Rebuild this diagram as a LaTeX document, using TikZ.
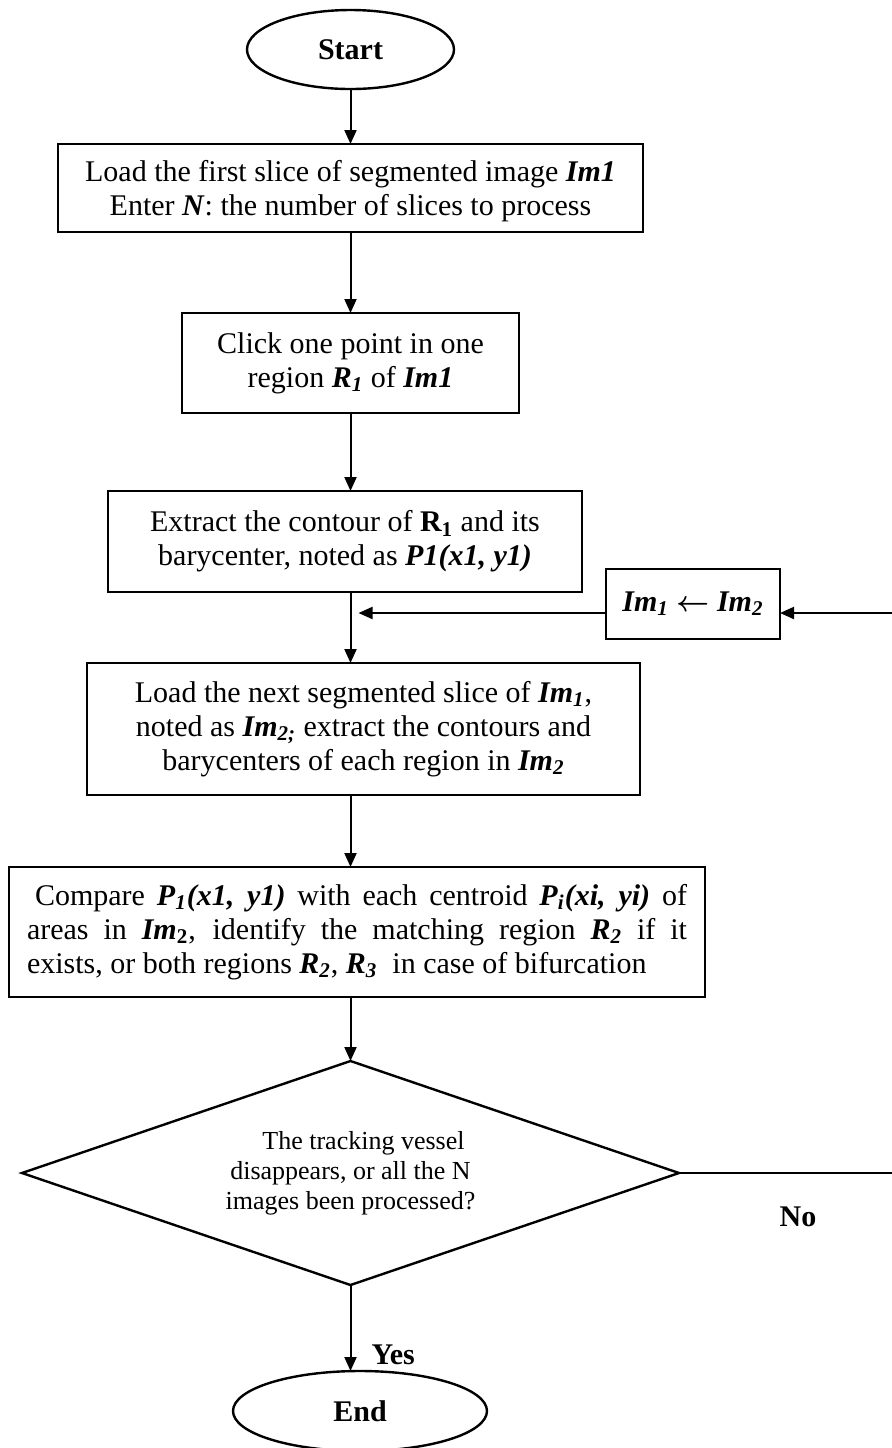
\documentclass[tikz,border=0pt]{standalone}
\usepackage{fontspec}
\setmainfont{Liberation Serif}
\usetikzlibrary{arrows.meta, positioning, calc, shapes}

\newcommand{\bi}[1]{\textbf{\textit{#1}}}
\newcommand{\bisub}[2]{\bi{#1}\textsubscript{\bi{#2}}}

\begin{document}
\begin{tikzpicture}[
    node distance=30pt,
    terminal/.style={ellipse, draw, line width=1.2pt, outer sep=0pt, font=\fontsize{15}{17}\selectfont\bfseries},
    process/.style={rectangle, draw, line width=1.2pt, outer sep=0pt, align=center, font=\fontsize{15}{17}\selectfont},
    decision/.style={diamond, draw, line width=1.2pt, outer sep=0pt, align=center, inner sep=0pt, shape aspect=2.93, font=\fontsize{13}{15}\selectfont},
    arrow/.style={-{Triangle[length=7pt,width=6pt]}, line width=1pt},
    answer/.style={font=\fontsize{15}{17}\selectfont\bfseries}
]
    \useasboundingbox (0,0) rectangle (445.5pt,-724pt);

    % main column
    \node[terminal, minimum width=103.5pt, minimum height=39.5pt] (start) at (175.25pt,-24.75pt) {Start};

    \node[process, below=27.5pt of start, minimum width=292.75pt, minimum height=44pt] (load1)
        {\rule{0pt}{14pt}Load the first slice of segmented image \bi{Im1}\\Enter \bi{N}: the number of slices to process};
    \node[process, below=40.5pt of load1, minimum width=168.5pt, minimum height=50pt] (click)
        {Click one point in one\\region \bisub{R}{1} of \bi{Im1}};
    \node[process, below=39pt of click, xshift=-2.75pt, minimum width=237pt, minimum height=50.5pt] (extract)
        {Extract the contour of \textbf{R\textsubscript{1}} and its\\barycenter, noted as \bi{P1(x1, y1)}};
    \node[process, below=35.5pt of extract, xshift=9.25pt, minimum width=276.5pt, minimum height=66pt] (loadnext)
        {Load the next segmented slice of \bisub{Im}{1},\\noted as \bisub{Im}{2;} extract the contours and\\barycenters of each region in \bisub{Im}{2}};
    \node[process, below=36pt of loadnext, xshift=-3.25pt, minimum width=348.25pt, minimum height=65pt,
          text width=330pt, align=justify] (compare)
        {\hspace*{4pt}Compare \bisub{P}{1}\bi{(x1, y1)} with each centroid \bisub{P}{i}\bi{(xi, yi)} of\linebreak
         areas in \bi{Im}\textsubscript{\textbf{2}}, identify the matching region \bisub{R}{2} if it\linebreak
         exists, or both regions \bisub{R}{2}, \bisub{R}{3}\ \ in case of bifurcation};
    \node[decision, below=32pt of compare, xshift=-3.25pt, minimum width=328.5pt, minimum height=112pt] (decision)
        {\hspace*{1em}The tracking vessel\\disappears, or all the N\\images been processed?};
    \node[terminal, below=43pt of decision, xshift=4.75pt, minimum width=127pt, minimum height=40pt] (end) {End};

    % feedback box
    \node[process, right=12pt of extract, yshift=-31.25pt, minimum width=87pt, minimum height=35pt] (swap)
        {\bisub{Im}{1} {\boldmath$\leftarrow$} \bisub{Im}{2}};

    % connections
    \draw[arrow] (start) -- (load1);
    \draw[arrow] (load1) -- (click);
    \draw[arrow] (click.south -| start) -- (extract.north -| start);
    \draw[arrow] (extract.south -| start) -- (loadnext.north -| start);
    \draw[arrow] (loadnext.south -| start) -- (compare.north -| start);
    \draw[arrow] (compare.south -| start) -- (decision.north);
    \draw[arrow] (decision.south) -- (end.north -| decision.south);

    % loop back (No)
    \coordinate (loopend) at ([xshift=112pt]decision.east);
    \draw[arrow] (decision.east) -- (loopend) |- ([yshift=-4.5pt]swap.east);
    \draw[arrow, shorten >=4pt] ([yshift=-4.5pt]swap.west) -- ([yshift=-4.5pt]swap.west -| start);

    \node[answer, anchor=west] (yes) at ([xshift=7pt, yshift=-35pt]decision.south) {Yes};
    \node[answer] (no) at ([xshift=59.5pt, yshift=-22pt]decision.east) {No};

\end{tikzpicture}
\end{document}
